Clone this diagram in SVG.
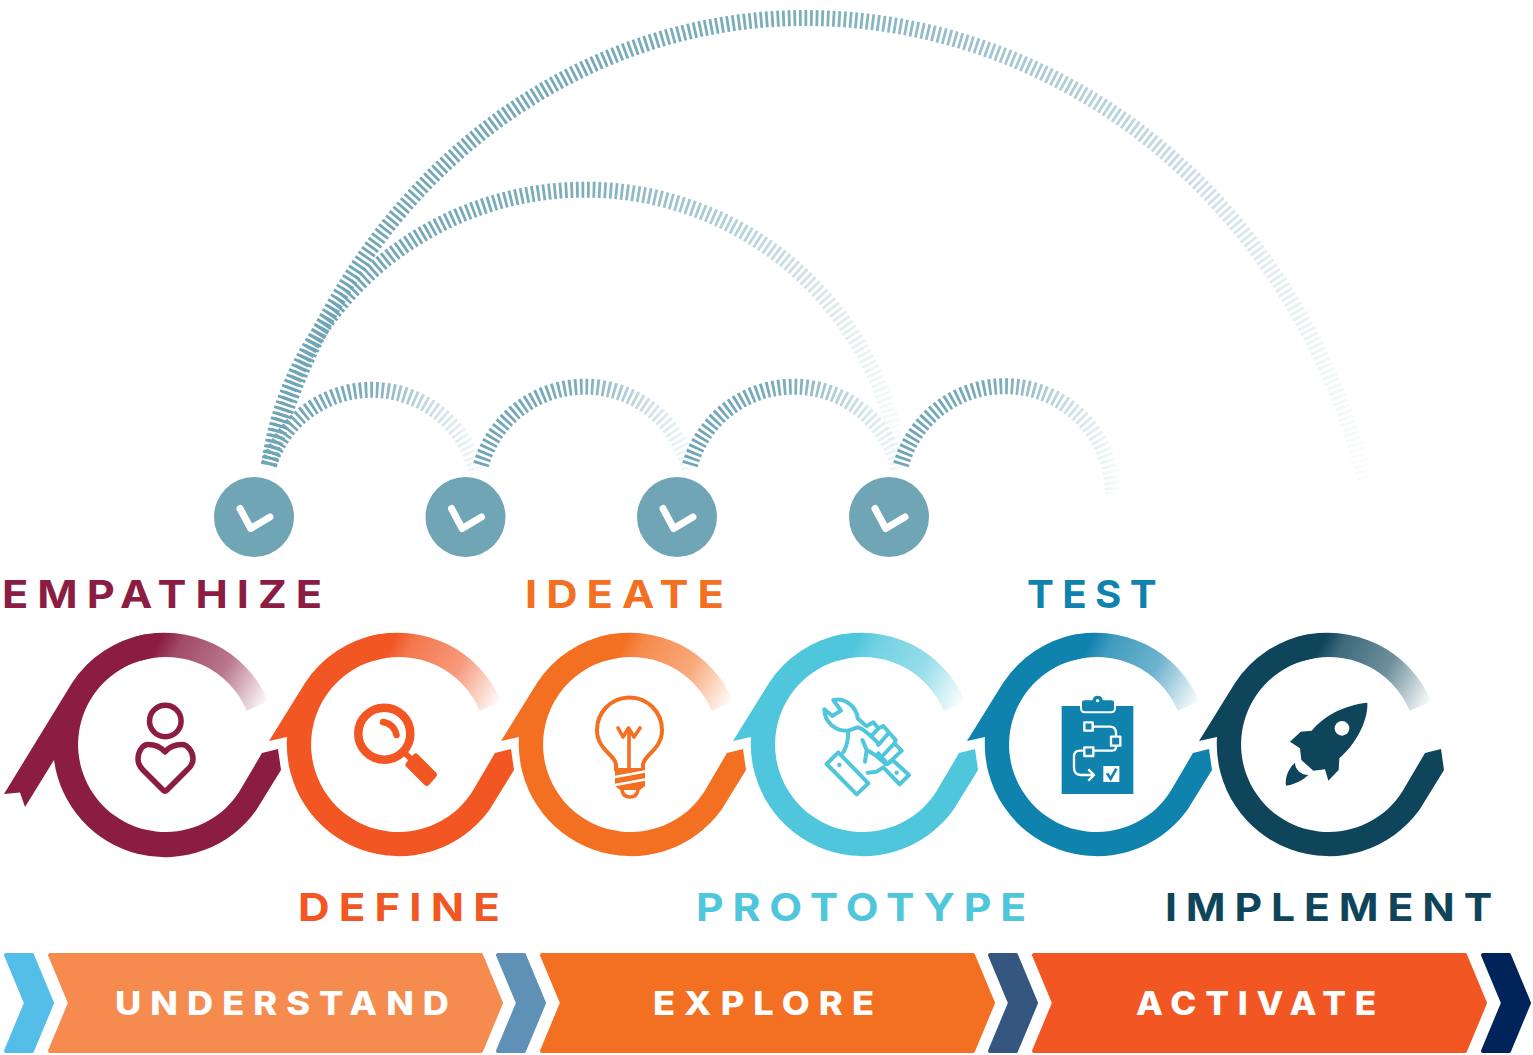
<svg xmlns="http://www.w3.org/2000/svg" width="1533" height="1055" viewBox="0 0 1533 1055">
<style>
.lab{font-family:Inter,"Liberation Sans",sans-serif;font-weight:700;font-size:38.500px;letter-spacing:8px}
.ban{font-family:Inter,"Liberation Sans",sans-serif;font-weight:800;font-size:32px;letter-spacing:8px;fill:#fff}
.arc{fill:none;stroke-width:16;stroke-dasharray:2.800 2.800}
.hand{fill:none;stroke:#fff;stroke-width:7;stroke-linecap:round;stroke-linejoin:round}
.clock{fill:#6FA5B5}
.chev{stroke-width:4;stroke-linejoin:round}
</style>
<defs>
<path id="ring" d="M-20 -110.200A112 112 0 0 0 -93.500 -61.500L-129.500 -3.500L-111.500 -7.500A112 112 0 0 0 91 65.300L115.500 25.500L112.500 4.500L96.500 8.500L73.700 47.300A87.500 87.500 0 1 1 -16 -86Z"/>
<path id="ring1" d="M-20 -110.200A112 112 0 0 0 -93.500 -61.500L-161.500 49.500L-145.500 48L-140.500 62.500L-111.500 15.500A112 112 0 0 0 91 65.300L115.500 25.500L112.500 4.500L96.500 8.500L73.700 47.300A87.500 87.500 0 1 1 -16 -86Z"/>
<path id="fade" d="M-30 -107.900A112 112 0 0 1 102.800 -42.800L81.200 -33.800A87.500 87.500 0 0 0 -25 -83.800Z"/>
<linearGradient id="f1" gradientUnits="userSpaceOnUse" x1="-20" y1="-100" x2="100" y2="-36"><stop offset=".08" stop-color="#8B1C42"/><stop offset=".22" stop-color="#8B1C42" stop-opacity=".8"/><stop offset=".6" stop-color="#8B1C42" stop-opacity=".6"/><stop offset=".85" stop-color="#8B1C42" stop-opacity=".22"/><stop offset="1" stop-color="#8B1C42" stop-opacity="0"/></linearGradient>
<linearGradient id="f2" gradientUnits="userSpaceOnUse" x1="-20" y1="-100" x2="100" y2="-36"><stop offset=".08" stop-color="#F15623"/><stop offset=".22" stop-color="#F15623" stop-opacity=".8"/><stop offset=".6" stop-color="#F15623" stop-opacity=".6"/><stop offset=".85" stop-color="#F15623" stop-opacity=".22"/><stop offset="1" stop-color="#F15623" stop-opacity="0"/></linearGradient>
<linearGradient id="f3" gradientUnits="userSpaceOnUse" x1="-20" y1="-100" x2="100" y2="-36"><stop offset=".08" stop-color="#F36F21"/><stop offset=".22" stop-color="#F36F21" stop-opacity=".8"/><stop offset=".6" stop-color="#F36F21" stop-opacity=".6"/><stop offset=".85" stop-color="#F36F21" stop-opacity=".22"/><stop offset="1" stop-color="#F36F21" stop-opacity="0"/></linearGradient>
<linearGradient id="f4" gradientUnits="userSpaceOnUse" x1="-20" y1="-100" x2="100" y2="-36"><stop offset=".08" stop-color="#4FC6DB"/><stop offset=".22" stop-color="#4FC6DB" stop-opacity=".8"/><stop offset=".6" stop-color="#4FC6DB" stop-opacity=".6"/><stop offset=".85" stop-color="#4FC6DB" stop-opacity=".22"/><stop offset="1" stop-color="#4FC6DB" stop-opacity="0"/></linearGradient>
<linearGradient id="f5" gradientUnits="userSpaceOnUse" x1="-20" y1="-100" x2="100" y2="-36"><stop offset=".08" stop-color="#1082AE"/><stop offset=".22" stop-color="#1082AE" stop-opacity=".8"/><stop offset=".6" stop-color="#1082AE" stop-opacity=".6"/><stop offset=".85" stop-color="#1082AE" stop-opacity=".22"/><stop offset="1" stop-color="#1082AE" stop-opacity="0"/></linearGradient>
<linearGradient id="f6" gradientUnits="userSpaceOnUse" x1="-20" y1="-100" x2="100" y2="-36"><stop offset=".08" stop-color="#0E455B"/><stop offset=".22" stop-color="#0E455B" stop-opacity=".8"/><stop offset=".6" stop-color="#0E455B" stop-opacity=".6"/><stop offset=".85" stop-color="#0E455B" stop-opacity=".22"/><stop offset="1" stop-color="#0E455B" stop-opacity="0"/></linearGradient>
<linearGradient id="a1" gradientUnits="userSpaceOnUse" x1="265" y1="0" x2="482" y2="0"><stop offset="0" stop-color="#6FA5B5"/><stop offset=".5" stop-color="#6FA5B5" stop-opacity=".9"/><stop offset=".78" stop-color="#6FA5B5" stop-opacity=".35"/><stop offset="1" stop-color="#6FA5B5" stop-opacity=".05"/></linearGradient>
<linearGradient id="a2" gradientUnits="userSpaceOnUse" x1="477" y1="0" x2="695" y2="0"><stop offset="0" stop-color="#6FA5B5"/><stop offset=".5" stop-color="#6FA5B5" stop-opacity=".9"/><stop offset=".78" stop-color="#6FA5B5" stop-opacity=".35"/><stop offset="1" stop-color="#6FA5B5" stop-opacity=".05"/></linearGradient>
<linearGradient id="a3" gradientUnits="userSpaceOnUse" x1="686" y1="0" x2="904" y2="0"><stop offset="0" stop-color="#6FA5B5"/><stop offset=".5" stop-color="#6FA5B5" stop-opacity=".9"/><stop offset=".78" stop-color="#6FA5B5" stop-opacity=".35"/><stop offset="1" stop-color="#6FA5B5" stop-opacity=".05"/></linearGradient>
<linearGradient id="a4" gradientUnits="userSpaceOnUse" x1="897" y1="0" x2="1118" y2="0"><stop offset="0" stop-color="#6FA5B5"/><stop offset=".5" stop-color="#6FA5B5" stop-opacity=".9"/><stop offset=".78" stop-color="#6FA5B5" stop-opacity=".35"/><stop offset="1" stop-color="#6FA5B5" stop-opacity=".04"/></linearGradient>
<linearGradient id="a5" gradientUnits="userSpaceOnUse" x1="265" y1="0" x2="905" y2="0"><stop offset="0" stop-color="#6FA5B5"/><stop offset=".5" stop-color="#6FA5B5" stop-opacity=".9"/><stop offset=".8" stop-color="#6FA5B5" stop-opacity=".4"/><stop offset="1" stop-color="#6FA5B5" stop-opacity=".03"/></linearGradient>
<linearGradient id="a6" gradientUnits="userSpaceOnUse" x1="265" y1="0" x2="1370" y2="0"><stop offset="0" stop-color="#6FA5B5"/><stop offset=".5" stop-color="#6FA5B5" stop-opacity=".9"/><stop offset=".82" stop-color="#6FA5B5" stop-opacity=".4"/><stop offset="1" stop-color="#6FA5B5" stop-opacity=".02"/></linearGradient>
</defs>

<g id="connectors">
<path class="arc" stroke="url(#a6)" d="M269 465A558 620 0 0 1 805 18A579 620 0 0 1 1365 480"/>
<path class="arc" stroke="url(#a5)" d="M269 465A319 319 0 0 1 901 465"/>
<path class="arc" stroke="url(#a1)" d="M269 465A108 108 0 0 1 477 473"/>
<path class="arc" stroke="url(#a2)" d="M481 465A108 108 0 0 1 690 470"/>
<path class="arc" stroke="url(#a3)" d="M690 465A108 108 0 0 1 899 470"/>
<path class="arc" stroke="url(#a4)" d="M901 465A108 108 0 0 1 1113 494"/>
</g>

<g id="clock1"><circle class="clock" cx="254" cy="517" r="40"/><path class="hand" d="M240 508.500L250.700 528.500L270 517"/></g>
<g id="clock2"><circle class="clock" cx="465.500" cy="517" r="40"/><path class="hand" d="M451.500 508.500L462.200 528.500L481.500 517"/></g>
<g id="clock3"><circle class="clock" cx="677" cy="517" r="40"/><path class="hand" d="M663 508.500L673.700 528.500L693 517"/></g>
<g id="clock4"><circle class="clock" cx="889" cy="517" r="40"/><path class="hand" d="M875 508.500L885.700 528.500L905 517"/></g>

<g id="empathize">
<use href="#ring1" transform="translate(165.500 744.500)" fill="#8B1C42"/>
<use href="#fade" transform="translate(165.500 744.500)" fill="url(#f1)"/>
<circle cx="165.300" cy="721" r="15.800" fill="none" stroke="#8B1C42" stroke-width="5.500"/>
<path d="M165 752C160 746 153 744.500 148 744.500C143 744.500 138 751 138 759C138 765 141 768 143 770L163 790Q165 792 167 790L187 770C189 768 193 765 193 759C193 751 187 744.500 182 744.500C177 744.500 170 746 165 752Z" fill="none" stroke="#8B1C42" stroke-width="5.500" stroke-linejoin="round"/>
<text class="lab" x="2" y="608" fill="#8B1C42" textLength="329" lengthAdjust="spacingAndGlyphs">EMPATHIZE</text>
</g>

<g id="define">
<use href="#ring" transform="translate(398.500 744.500)" fill="#F15623"/>
<use href="#fade" transform="translate(398.500 744.500)" fill="url(#f2)"/>
<circle cx="384.300" cy="733.700" r="26" fill="none" stroke="#F15623" stroke-width="8.500"/>
<path d="M383 722Q394 724 396.500 735" fill="none" stroke="#F15623" stroke-width="6.500" stroke-linecap="round"/>
<path d="M404 752L412 760" stroke="#F15623" stroke-width="6" fill="none"/>
<path d="M409.500 758.500L414 754Q416 752.500 418 754.500L436 772.500Q438 775 436 777L429 785Q427 787 424.500 785L406.500 767Q404.500 765 406 763Z" fill="#F15623"/>
<text class="lab" x="298" y="921" fill="#F15623" textLength="211" lengthAdjust="spacingAndGlyphs">DEFINE</text>
</g>

<g id="ideate">
<use href="#ring" transform="translate(630.500 744.500)" fill="#F36F21"/>
<use href="#fade" transform="translate(630.500 744.500)" fill="url(#f3)"/>
<path d="M616 770V765C616 755 597 750 597 730A32.500 32.500 0 1 1 662 730C662 750 643 755 643 765V770Z" fill="none" stroke="#F36F21" stroke-width="4" stroke-linejoin="round"/>
<path d="M618 728L623 737L628.500 728L634 737L640 728M629 730V770" fill="none" stroke="#F36F21" stroke-width="3.600" stroke-linecap="round" stroke-linejoin="round"/>
<path d="M615 771H645V786L640 790H620L615 786Z" fill="#F36F21"/>
<path d="M615 777L645 771.500M615 785L645 779.500" stroke="#fff" stroke-width="2.600" fill="none"/>
<path d="M622 790Q623 797 630 797Q637 797 638 790" fill="none" stroke="#F36F21" stroke-width="3.600"/>
<text class="lab" x="525" y="608" fill="#F36F21" textLength="208" lengthAdjust="spacingAndGlyphs">IDEATE</text>
</g>

<g id="prototype">
<use href="#ring" transform="translate(862.500 744.500)" fill="#4FC6DB"/>
<use href="#fade" transform="translate(862.500 744.500)" fill="url(#f4)"/>
<g transform="translate(815 690) scale(.33333)" fill="none" stroke="#4FC6DB" stroke-width="12" stroke-linejoin="round" stroke-linecap="round">
<path d="M55 30L78 62L52 78L28 58C28 95 60 125 100 122C100 145 98 165 85 187M55 30C90 22 125 50 128 85L150 105"/>
<path d="M35 222L70 187L160 280L125 313Z"/>
<path d="M100 122L128 112C145 115 170 140 190 160M142 150L155 180L150 215M155 180C175 190 195 205 212 222"/>
<path d="M155 108L175 97L190 115L205 108L242 150L238 160L260 182L218 222L190 190M190 115L170 137M222 128L190 165M238 160L205 195"/>
<path d="M212 222L235 212L282 255L254 283L205 232L185 245L158 248"/>
<path d="M73 225h.1M245 248h.1" stroke-width="13"/>
</g>
<text class="lab" x="696" y="921" fill="#4FC6DB" textLength="339" lengthAdjust="spacingAndGlyphs">PROTOTYPE</text>
</g>

<g id="test">
<use href="#ring" transform="translate(1096.500 744.500)" fill="#1082AE"/>
<use href="#fade" transform="translate(1096.500 744.500)" fill="url(#f5)"/>
<g transform="translate(800 680) scale(.33333)">
<rect x="785" y="78" width="215" height="264" fill="#1082AE"/>
<path d="M843 68Q843 58 855 58H875Q878 44 893 44Q908 44 911 58H933Q945 58 945 68V85Q945 97 933 97H855Q843 97 843 85Z" fill="#1082AE" stroke="#fff" stroke-width="6"/>
<circle cx="893" cy="62" r="5" fill="#fff"/>
<g fill="none" stroke="#fff" stroke-width="7" stroke-linejoin="round">
<rect x="853" y="127" width="25" height="25"/>
<rect x="933" y="170" width="28" height="27"/>
<rect x="853" y="202" width="27" height="26"/>
<path d="M878 140H930Q948 140 948 160V170M948 197V200Q948 212 935 212H880M853 212H840Q822 212 822 230V262Q822 285 842 285H880M865 268L882 285L865 302"/>
</g>
<rect x="910" y="258" width="48" height="48" fill="#fff"/>
<path d="M921 280L932 296L949 266" fill="none" stroke="#1082AE" stroke-width="8"/>
</g>
<text class="lab" x="1027" y="608" fill="#1082AE" textLength="138" lengthAdjust="spacingAndGlyphs">TEST</text>
</g>

<g id="implement">
<use href="#ring" transform="translate(1328.500 744.500)" fill="#0E455B"/>
<use href="#fade" transform="translate(1328.500 744.500)" fill="url(#f6)"/>
<g transform="translate(1260 690) scale(.33333)" fill="#0E455B">
<path d="M322 38C250 45 190 80 155 122L122 125L90 155L120 175L124 210L160 242L195 238L205 272L236 240L238 205C290 160 325 90 322 38Z"/>
<path d="M105 218C80 240 75 270 78 287C100 285 130 270 145 255C125 255 105 240 105 218Z"/>
<circle cx="246" cy="115" r="22" fill="#fff"/>
</g>
<text class="lab" x="1165" y="921" fill="#0E455B" textLength="336" lengthAdjust="spacingAndGlyphs">IMPLEMENT</text>
</g>

<g id="banner">
<path class="chev" fill="#54BEE8" stroke="#54BEE8" d="M6 955H32L52 1003L32 1051H6L26 1003Z"/>
<g id="understand"><path class="chev" fill="#F68B4F" stroke="#F68B4F" d="M50 955H481L501 1003L481 1051H50L70 1003Z"/><text class="ban" x="115" y="1015" textLength="343" lengthAdjust="spacingAndGlyphs">UNDERSTAND</text></g>
<path class="chev" fill="#5F90B5" stroke="#5F90B5" d="M498 955H524L544 1003L524 1051H498L518 1003Z"/>
<g id="explore"><path class="chev" fill="#F36F21" stroke="#F36F21" d="M542 955H973L993 1003L973 1051H542L562 1003Z"/><text class="ban" x="653" y="1015" textLength="230" lengthAdjust="spacingAndGlyphs">EXPLORE</text></g>
<path class="chev" fill="#34567F" stroke="#34567F" d="M990 955H1016L1036 1003L1016 1051H990L1010 1003Z"/>
<g id="activate"><path class="chev" fill="#F15623" stroke="#F15623" d="M1034 955H1465L1485 1003L1465 1051H1034L1054 1003Z"/><text class="ban" x="1136" y="1015" textLength="249" lengthAdjust="spacingAndGlyphs">ACTIVATE</text></g>
<path class="chev" fill="#00245A" stroke="#00245A" d="M1483 955H1509L1529 1003L1509 1051H1483L1503 1003Z"/>
</g>
</svg>
